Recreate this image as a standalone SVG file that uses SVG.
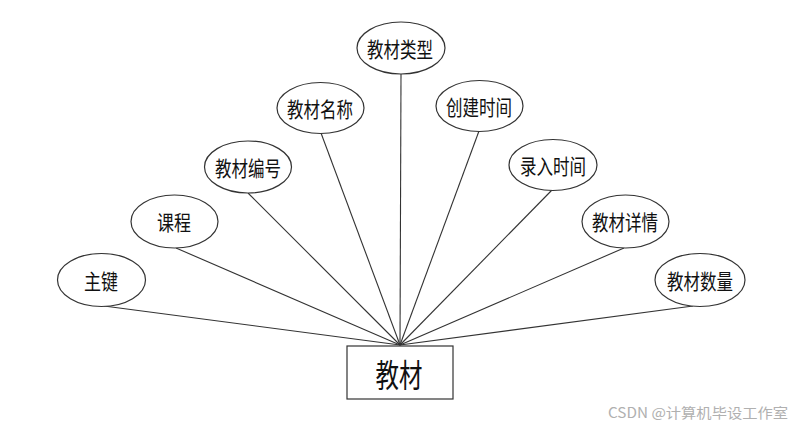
<svg xmlns="http://www.w3.org/2000/svg" width="800" height="430" viewBox="0 0 800 430">
<style>
.e{fill:#fff;stroke:#333;stroke-width:1.2}
.t{font-family:"Noto Sans CJK SC","Liberation Sans",sans-serif;font-size:21px;fill:#111;text-anchor:middle;dominant-baseline:central}
.c line{stroke:#333;stroke-width:1.1}
.w{font-family:"Noto Sans CJK SC","Liberation Sans",sans-serif;font-size:14px;fill:#b0b0b0}
</style>
<rect width="800" height="430" fill="#fff"/>
<g class="c" id="connectors">
<line x1="104" y1="306" x2="400" y2="345"/>
<line x1="176" y1="248" x2="400" y2="345"/>
<line x1="248" y1="193" x2="400" y2="345"/>
<line x1="321" y1="133" x2="400" y2="345"/>
<line x1="401" y1="74" x2="400" y2="345"/>
<line x1="479" y1="131" x2="400" y2="345"/>
<line x1="552" y1="190" x2="400" y2="345"/>
<line x1="624" y1="248" x2="400" y2="345"/>
<line x1="693" y1="306" x2="400" y2="345"/>
</g>
<g id="n_main"><rect x="347" y="346" width="106" height="53" fill="#fff" stroke="#333" stroke-width="1.2"/><text class="t" x="399" y="373" style="font-size:32px" textLength="47" lengthAdjust="spacingAndGlyphs">教材</text></g>
<g id="n_zj"><ellipse class="e" cx="101.5" cy="280" rx="44" ry="26.5"/><text class="t" x="101" y="280" textLength="34" lengthAdjust="spacingAndGlyphs">主键</text></g>
<g id="n_kc"><ellipse class="e" cx="174.5" cy="221.5" rx="43.5" ry="26.5"/><text class="t" x="174" y="221" textLength="34" lengthAdjust="spacingAndGlyphs">课程</text></g>
<g id="n_bh"><ellipse class="e" cx="248" cy="167" rx="43.5" ry="26"/><text class="t" x="248" y="167" textLength="66" lengthAdjust="spacingAndGlyphs">教材编号</text></g>
<g id="n_mc"><ellipse class="e" cx="320.5" cy="108" rx="43.5" ry="25.5"/><text class="t" x="320" y="108" textLength="66" lengthAdjust="spacingAndGlyphs">教材名称</text></g>
<g id="n_lx"><ellipse class="e" cx="401" cy="48" rx="44" ry="26"/><text class="t" x="400" y="48" textLength="66" lengthAdjust="spacingAndGlyphs">教材类型</text></g>
<g id="n_cj"><ellipse class="e" cx="479.5" cy="106" rx="43.5" ry="25.5"/><text class="t" x="479" y="106" textLength="66" lengthAdjust="spacingAndGlyphs">创建时间</text></g>
<g id="n_lr"><ellipse class="e" cx="553" cy="165" rx="44" ry="25.5"/><text class="t" x="553" y="165" textLength="66" lengthAdjust="spacingAndGlyphs">录入时间</text></g>
<g id="n_xq"><ellipse class="e" cx="625.5" cy="221.5" rx="43.5" ry="26.5"/><text class="t" x="625" y="221" textLength="66" lengthAdjust="spacingAndGlyphs">教材详情</text></g>
<g id="n_sl"><ellipse class="e" cx="700" cy="280" rx="45" ry="26.5"/><text class="t" x="700" y="280" textLength="66" lengthAdjust="spacingAndGlyphs">教材数量</text></g>
<text class="w" x="608" y="418" textLength="180" lengthAdjust="spacingAndGlyphs">CSDN @计算机毕设工作室</text>
</svg>
